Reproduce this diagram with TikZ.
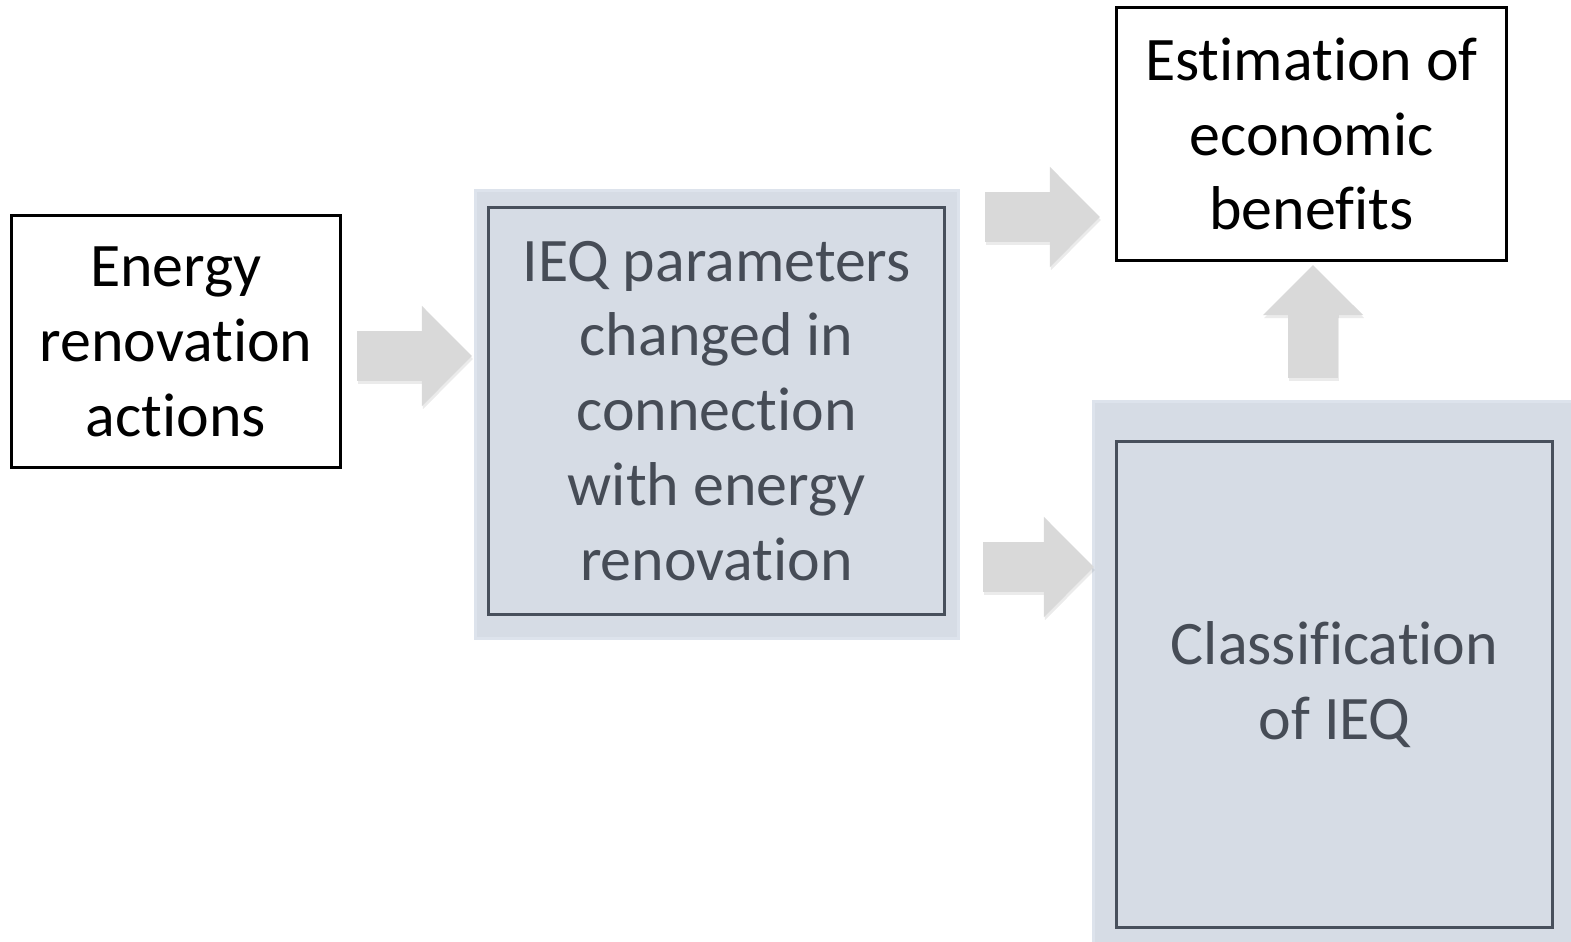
\documentclass[tikz,border=0pt]{standalone}
\usepackage{fontspec}
\setmainfont[Ligatures=NoCommon]{Carlito}
\usetikzlibrary{arrows.meta,backgrounds}

\definecolor{ieqfill}{HTML}{D6DCE5}
\definecolor{ieqedge}{HTML}{DDE3EC}
\definecolor{ieqline}{HTML}{48505C}
\definecolor{ieqtext}{HTML}{464C56}
\definecolor{arrowfill}{HTML}{D9D9D9}

\begin{document}
\begin{tikzpicture}[
    x=0.01cm, y=-0.01cm,
    font=\fontsize{17.6}{21.3}\selectfont,
    plainbox/.style={draw=black, line width=0.85pt, fill=white, align=center, inner sep=0pt},
    ieqbox/.style={draw=ieqline, line width=0.85pt, fill=ieqfill, text=ieqtext, align=center, inner sep=0pt},
    glow/.style={fill=ieqfill, draw=ieqedge, line width=0.8pt},
    blockarrow/.style={draw=arrowfill, line width=0.5cm, -{Triangle[length=0.5cm, width=0.97cm, fill=arrowfill]}},
    arrowshadow/.style={draw=black, opacity=0.08, line width=0.5cm, -{Triangle[length=0.5cm, width=0.97cm]}}
    ]
    \useasboundingbox (0,0) rectangle (1571,941);

    \node[plainbox, minimum width=3.28cm, minimum height=2.51cm] (actions) at (176,341.5)
        {Energy\\renovation\\actions};
    \node[ieqbox, minimum width=4.55cm, minimum height=4.06cm] (params) at (716.5,411)
        {IEQ parameters\\changed in\\connection\\with energy\\renovation};
    \node[plainbox, minimum width=3.89cm, minimum height=2.52cm] (benefits) at (1311.5,134)
        {Estimation of\\economic\\benefits};
    \node[ieqbox, minimum width=4.35cm, minimum height=4.85cm] (classif) at (1334.5,684.5)
        {Classification\\of IEQ};

    % soft frames behind the blue boxes
    \begin{scope}[on background layer]
        \path[glow] ([shift={(-12,-16)}]params.north west) rectangle ([shift={(13,23)}]params.south east);
        \path[glow] ([shift={(-22,-39)}]classif.north west) rectangle (1580,950);
    \end{scope}

    \coordinate (a1s) at (357,356);
    \coordinate (a1e) at (472,356);
    \coordinate (a2s) at (985,217);
    \coordinate (a2e) at (1100,217);
    \coordinate (a3s) at (983,567);
    \coordinate (a3e) at (1094,567);
    \coordinate (a4s) at (1313,378);
    \coordinate (a4e) at (1313,265);

    \foreach \s/\e in {a1s/a1e,a2s/a2e,a3s/a3e,a4s/a4e}{
        \draw[arrowshadow] ([shift={(1,3)}]\s) -- ([shift={(1,3)}]\e);
        \draw[blockarrow] (\s) -- (\e);
    }

\end{tikzpicture}
\end{document}
